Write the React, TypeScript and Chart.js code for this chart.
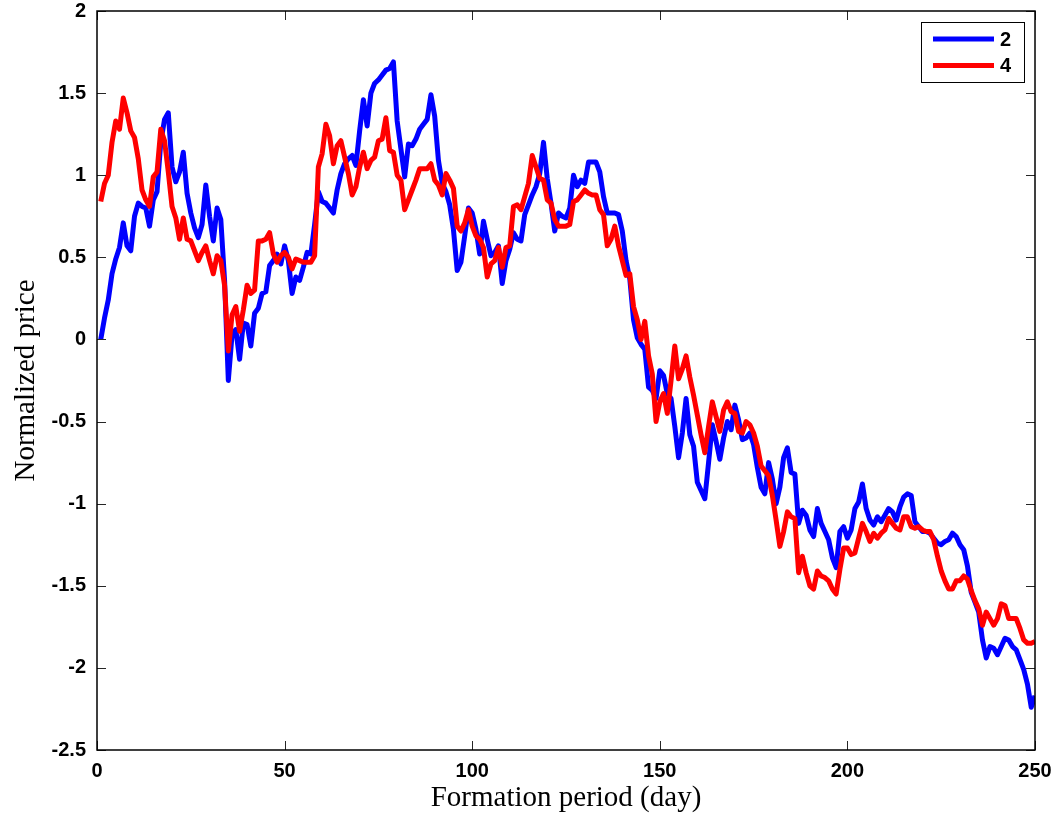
import React, { useEffect, useRef } from "react";
import { Chart, registerables } from "chart.js";

Chart.register(...registerables);

const seriesLabels = ["2", "4"];
const seriesColors = ["#0000FF", "#FF0000"];

const days: number[] = Array.from({ length: 250 }, (_, i) => i + 1);

const series2: number[] = [
  0.00, 0.13, 0.24, 0.40, 0.49, 0.56, 0.71, 0.57, 0.54, 0.75,
  0.83, 0.81, 0.80, 0.69, 0.85, 0.90, 1.20, 1.34, 1.38, 1.05,
  0.96, 1.02, 1.14, 0.89, 0.77, 0.68, 0.62, 0.70, 0.94, 0.75,
  0.60, 0.80, 0.73, 0.36, -0.25, 0.03, 0.06, -0.12, 0.10, 0.09,
  -0.04, 0.16, 0.19, 0.28, 0.29, 0.45, 0.48, 0.52, 0.46, 0.57,
  0.48, 0.28, 0.38, 0.36, 0.44, 0.53, 0.52, 0.70, 0.90, 0.84,
  0.83, 0.80, 0.77, 0.91, 1.01, 1.07, 1.10, 1.12, 1.06, 1.27,
  1.46, 1.30, 1.50, 1.56, 1.58, 1.61, 1.64, 1.65, 1.69, 1.33,
  1.16, 0.99, 1.19, 1.18, 1.22, 1.28, 1.31, 1.34, 1.49, 1.36,
  1.09, 0.95, 0.90, 0.82, 0.67, 0.42, 0.47, 0.63, 0.80, 0.77,
  0.67, 0.52, 0.72, 0.61, 0.51, 0.53, 0.57, 0.34, 0.48, 0.55,
  0.65, 0.61, 0.60, 0.76, 0.82, 0.88, 0.93, 1.01, 1.20, 0.98,
  0.83, 0.66, 0.77, 0.75, 0.74, 0.80, 1.00, 0.93, 0.97, 0.95,
  1.08, 1.08, 1.08, 1.02, 0.87, 0.77, 0.77, 0.77, 0.76, 0.66,
  0.48, 0.37, 0.12, 0.01, -0.03, -0.06, -0.29, -0.31, -0.36, -0.19,
  -0.22, -0.33, -0.36, -0.53, -0.72, -0.57, -0.36, -0.58, -0.65, -0.87,
  -0.92, -0.97, -0.75, -0.52, -0.62, -0.73, -0.60, -0.50, -0.55, -0.40,
  -0.49, -0.61, -0.60, -0.57, -0.64, -0.78, -0.90, -0.94, -0.75, -0.85,
  -1.00, -0.90, -0.72, -0.66, -0.81, -0.82, -1.12, -1.04, -1.07, -1.16,
  -1.20, -1.03, -1.12, -1.17, -1.22, -1.33, -1.39, -1.17, -1.14, -1.21,
  -1.16, -1.03, -0.99, -0.88, -1.03, -1.10, -1.13, -1.08, -1.11, -1.07,
  -1.03, -1.05, -1.10, -1.02, -0.96, -0.94, -0.95, -1.11, -1.14, -1.17,
  -1.17, -1.18, -1.21, -1.24, -1.25, -1.23, -1.22, -1.18, -1.20, -1.25,
  -1.28, -1.38, -1.54, -1.60, -1.66, -1.83, -1.94, -1.87, -1.88, -1.92,
  -1.87, -1.82, -1.83, -1.87, -1.89, -1.95, -2.01, -2.10, -2.24, -2.17,
];

const series4: number[] = [
  0.84, 0.95, 1.00, 1.20, 1.33, 1.28, 1.47, 1.38, 1.27, 1.23,
  1.10, 0.91, 0.85, 0.81, 0.99, 1.02, 1.28, 1.21, 1.02, 0.81,
  0.74, 0.61, 0.74, 0.61, 0.60, 0.54, 0.48, 0.53, 0.57, 0.48,
  0.40, 0.51, 0.48, 0.33, -0.07, 0.15, 0.20, 0.05, 0.18, 0.33,
  0.28, 0.30, 0.60, 0.60, 0.61, 0.65, 0.52, 0.47, 0.51, 0.53,
  0.50, 0.43, 0.49, 0.48, 0.47, 0.47, 0.47, 0.51, 1.05, 1.13,
  1.31, 1.24, 1.07, 1.18, 1.21, 1.11, 1.01, 0.88, 0.93, 1.05,
  1.14, 1.04, 1.09, 1.11, 1.21, 1.22, 1.35, 1.15, 1.14, 1.00,
  0.97, 0.79, 0.85, 0.91, 0.97, 1.04, 1.04, 1.04, 1.07, 0.97,
  0.94, 0.88, 1.01, 0.97, 0.92, 0.69, 0.66, 0.71, 0.79, 0.69,
  0.63, 0.61, 0.56, 0.38, 0.46, 0.48, 0.56, 0.44, 0.56, 0.57,
  0.81, 0.82, 0.79, 0.87, 0.95, 1.12, 1.05, 0.98, 0.97, 0.85,
  0.83, 0.73, 0.69, 0.69, 0.69, 0.70, 0.84, 0.85, 0.88, 0.91,
  0.89, 0.88, 0.88, 0.79, 0.76, 0.57, 0.61, 0.69, 0.57, 0.48,
  0.39, 0.40, 0.20, 0.12, 0.00, 0.11, -0.10, -0.21, -0.50, -0.38,
  -0.33, -0.45, -0.25, -0.04, -0.24, -0.18, -0.10, -0.23, -0.34, -0.46,
  -0.58, -0.69, -0.53, -0.38, -0.47, -0.56, -0.43, -0.38, -0.44, -0.45,
  -0.56, -0.57, -0.50, -0.52, -0.57, -0.65, -0.77, -0.80, -0.83, -0.95,
  -1.10, -1.26, -1.17, -1.05, -1.08, -1.09, -1.42, -1.32, -1.42, -1.50,
  -1.52, -1.41, -1.44, -1.45, -1.47, -1.52, -1.55, -1.40, -1.27, -1.27,
  -1.31, -1.30, -1.21, -1.12, -1.17, -1.23, -1.18, -1.21, -1.18, -1.16,
  -1.09, -1.12, -1.15, -1.16, -1.08, -1.08, -1.14, -1.15, -1.14, -1.16,
  -1.17, -1.17, -1.22, -1.32, -1.41, -1.47, -1.52, -1.52, -1.47, -1.47,
  -1.44, -1.46, -1.53, -1.59, -1.64, -1.74, -1.66, -1.70, -1.74, -1.70,
  -1.61, -1.62, -1.70, -1.70, -1.70, -1.76, -1.83, -1.85, -1.85, -1.84,
];

const xTicks: number[] = [0, 50, 100, 150, 200, 250];
const yTicks: number[] = [2, 1.5, 1, 0.5, 0, -0.5, -1, -1.5, -2, -2.5];

const TICK_FONT = { family: "'Liberation Sans', Arial, sans-serif", size: 20, weight: "bold" as const };
const TITLE_FONT = { family: "'Liberation Serif', 'Times New Roman', serif", size: 29, weight: "normal" as const };

const framePlugin = {
  id: "matlabFrame",
  afterDatasetsDraw(chart: any) {
    const { ctx, chartArea } = chart;
    const { left, right, top, bottom } = chartArea;
    const xs = chart.scales.x;
    const ys = chart.scales.y;
    const tl = 9;
    ctx.save();
    ctx.strokeStyle = "#262626";
    ctx.lineWidth = 1;
    ctx.beginPath();
    xTicks.forEach((t) => {
      const px = Math.round(xs.getPixelForValue(t)) + 0.5;
      ctx.moveTo(px, bottom);
      ctx.lineTo(px, bottom - tl);
      ctx.moveTo(px, top);
      ctx.lineTo(px, top + tl);
    });
    yTicks.forEach((t) => {
      const py = Math.round(ys.getPixelForValue(t)) + 0.5;
      ctx.moveTo(left, py);
      ctx.lineTo(left + tl, py);
      ctx.moveTo(right, py);
      ctx.lineTo(right - tl, py);
    });
    ctx.stroke();
    ctx.strokeStyle = "#000";
    ctx.lineWidth = 1.5;
    ctx.strokeRect(left, top, right - left, bottom - top);
    ctx.restore();
  },
  afterDraw(chart: any) {
    const { ctx } = chart;
    const bx = 921, by = 22, bw = 103, bh = 60;
    ctx.save();
    ctx.fillStyle = "#fff";
    ctx.fillRect(bx, by, bw, bh);
    ctx.strokeStyle = "#000";
    ctx.lineWidth = 1;
    ctx.strokeRect(bx + 0.5, by + 0.5, bw, bh);
    chart.data.datasets.forEach((ds: any, i: number) => {
      const y = by + 17 + i * 26.5;
      ctx.strokeStyle = ds.borderColor;
      ctx.lineWidth = 5;
      ctx.beginPath();
      ctx.moveTo(bx + 12, y);
      ctx.lineTo(bx + 73, y);
      ctx.stroke();
      ctx.fillStyle = "#000";
      ctx.font = "bold 20px 'Liberation Sans', Arial, sans-serif";
      ctx.textBaseline = "middle";
      ctx.textAlign = "left";
      ctx.fillText(ds.label, bx + 79, y + 1);
    });
    ctx.restore();
  },
};

export default function App() {
  const ref = useRef<HTMLCanvasElement | null>(null);

  useEffect(() => {
    document.body.style.margin = "0";
    const canvas = ref.current;
    if (!canvas) return;
    const chart = new Chart(canvas, {
      type: "line",
      data: {
        datasets: [
          {
            label: seriesLabels[0],
            data: days.map((d, i) => ({ x: d, y: series2[i] })),
            borderColor: seriesColors[0],
            backgroundColor: seriesColors[0],
            borderWidth: 5,
            pointRadius: 0,
            tension: 0,
            borderJoinStyle: "round",
            order: 2,
          },
          {
            label: seriesLabels[1],
            data: days.map((d, i) => ({ x: d, y: series4[i] })),
            borderColor: seriesColors[1],
            backgroundColor: seriesColors[1],
            borderWidth: 5,
            pointRadius: 0,
            tension: 0,
            borderJoinStyle: "round",
            order: 1,
          },
        ],
      },
      options: {
        animation: false,
        responsive: false,
        devicePixelRatio: 1,
        layout: { padding: { top: 11, right: 28, left: 0, bottom: 0 } },
        plugins: {
          legend: { display: false },
          tooltip: { enabled: false },
        },
        scales: {
          x: {
            type: "linear",
            min: 0,
            max: 250,
            afterFit: (s: any) => {
              s.height = 70;
              s.paddingLeft = 0;
              s.paddingRight = 0;
            },
            afterBuildTicks: (s: any) => {
              s.ticks = xTicks.map((v) => ({ value: v }));
            },
            grid: { display: false, drawTicks: false },
            border: { display: false },
            ticks: {
              font: TICK_FONT,
              color: "#000",
              padding: 9,
              maxRotation: 0,
              autoSkip: false,
              callback: (v: any) => String(v),
            },
            title: {
              display: true,
              text: "Formation period (day)",
              font: TITLE_FONT,
              color: "#000",
              padding: { top: 0, bottom: 4 },
            },
          },
          y: {
            type: "linear",
            min: -2.5,
            max: 2,
            afterFit: (s: any) => {
              s.width = 97;
              s.paddingTop = 0;
              s.paddingBottom = 0;
            },
            afterBuildTicks: (s: any) => {
              s.ticks = yTicks.map((v) => ({ value: v }));
            },
            grid: { display: false, drawTicks: false },
            border: { display: false },
            ticks: {
              font: TICK_FONT,
              color: "#000",
              padding: 11,
              autoSkip: false,
              callback: (v: any) => String(v),
            },
            title: {
              display: true,
              text: "Normalized price",
              font: TITLE_FONT,
              color: "#000",
              padding: { top: 9, bottom: 0 },
            },
          },
        },
      },
      plugins: [framePlugin],
    });
    return () => chart.destroy();
  }, []);

  return (
    <div style={{ width: 1063, height: 820, background: "#fff" }}>
      <canvas ref={ref} width={1063} height={820} style={{ display: "block" }} />
    </div>
  );
}
